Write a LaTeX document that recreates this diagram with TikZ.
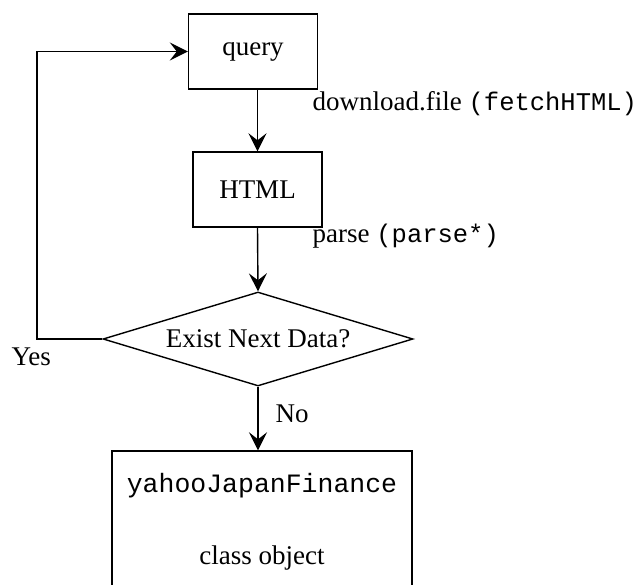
\documentclass[tikz,border=0pt]{standalone}
\usepackage{fontspec}
\setmainfont{Liberation Serif}
\setmonofont{Liberation Mono}
\usetikzlibrary{shapes.geometric,arrows.meta}
\begin{document}
\begin{tikzpicture}[x=1pt,y=-1pt,
  line width=1.4pt,
  every node/.style={font=\fontsize{27}{32}\selectfont},
  boxnode/.style={draw,rectangle,inner sep=0pt},
  arr/.style={-{Stealth[length=18pt,width=18pt,inset=7pt]}},
  lbl/.style={anchor=west,inner sep=0pt}]
\clip (0,0) rectangle (640,585);
\useasboundingbox (0,0) rectangle (640,585);
\node[boxnode,minimum width=129pt,minimum height=75pt] (query) at (253,51.5) {query};
\node[boxnode,minimum width=129pt,minimum height=75pt] (html) at (257.5,189.5) {HTML};
\node[draw,diamond,aspect=3.3,inner sep=0pt,minimum width=310pt,minimum height=94pt] (dia) at (258,339) {Exist Next Data?};
\node[boxnode,minimum width=300pt,minimum height=160pt] (res) at (262,531) {};
\node (resa) at (262,486) {\fontsize{26.5}{32}\selectfont\texttt{yahooJapanFinance}};
\node (resb) at (262,558) {class object};
\coordinate (lc) at (37,339);
\draw[arr] (html.north |- query.south) -- (html.north);
\draw[arr] (html.south) -- (dia.north);
\draw[arr] (dia.south) -- (dia.south |- res.north);
\draw[arr] (dia.west) -- (lc) |- (query.west);
\node[lbl] (l1) at (312,104) {download.file {\fontsize{25.5}{32}\selectfont\texttt{(fetchHTML)}}};
\node[lbl] (l2) at (312,236) {parse {\fontsize{25.5}{32}\selectfont\texttt{(parse*)}}};
\node[lbl] (yes) at (11,357) {Yes};
\node[lbl] (no) at (275,414) {No};
\end{tikzpicture}
\end{document}
